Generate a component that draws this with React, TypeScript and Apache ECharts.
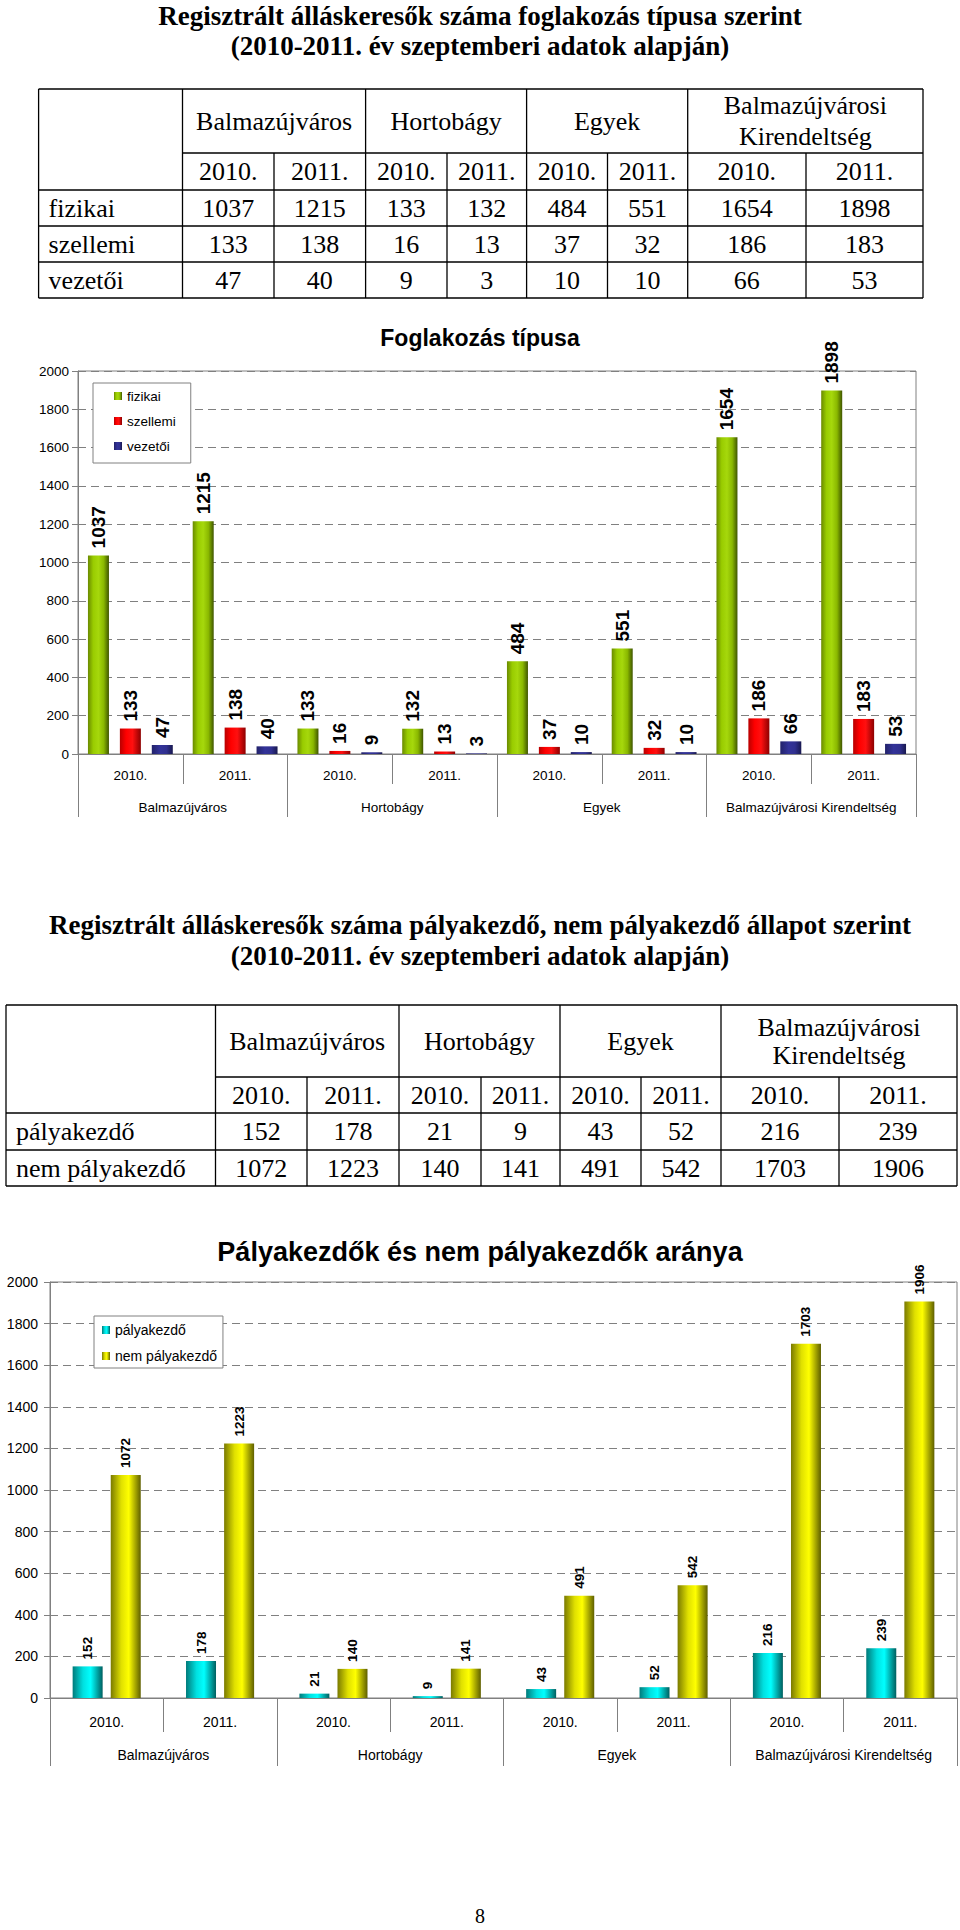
import React, { useEffect, useRef } from 'react';
import * as echarts from 'echarts';

// ---------- data ----------
const yearLabels = ['2010.', '2011.', '2010.', '2011.', '2010.', '2011.', '2010.', '2011.'];
const places = ['Balmazújváros', 'Hortobágy', 'Egyek', 'Balmazújvárosi Kirendeltség'];
const placesTable = [['Balmazújváros'], ['Hortobágy'], ['Egyek'], ['Balmazújvárosi', 'Kirendeltség']];

const title1 = ['Regisztrált álláskeresők száma foglakozás típusa szerint', '(2010-2011. év szeptemberi adatok alapján)'];
const title2 = ['Regisztrált álláskeresők száma pályakezdő, nem pályakezdő állapot szerint', '(2010-2011. év szeptemberi adatok alapján)'];
const chart1Title = 'Foglakozás típusa';
const chart2Title = 'Pályakezdők és nem pályakezdők aránya';
const pageNumber = '8';

const seriesNames1 = ['fizikai', 'szellemi', 'vezetői'];
const fizikai = [1037, 1215, 133, 132, 484, 551, 1654, 1898];
const szellemi = [133, 138, 16, 13, 37, 32, 186, 183];
const vezetoi = [47, 40, 9, 3, 10, 10, 66, 53];

const seriesNames2 = ['pályakezdő', 'nem pályakezdő'];
const palyakezdo = [152, 178, 21, 9, 43, 52, 216, 239];
const nemPalyakezdo = [1072, 1223, 140, 141, 491, 542, 1703, 1906];

const yMin = 0;
const yMax = 2000;
const yInterval = 200;

// ---------- styles ----------
const sans = '"Liberation Sans", Arial, sans-serif';
const serif = '"Liberation Serif", "Times New Roman", serif';
const axisGray = '#808080';

function hGrad(stops: [number, string][]) {
  return new echarts.graphic.LinearGradient(0, 0, 1, 0, stops.map(([offset, color]) => ({ offset, color })));
}

const green = hGrad([[0, '#6a8a00'], [0.25, '#99cc00'], [0.5, '#a6d80c'], [0.75, '#8ab800'], [1, '#3f5500']]);
const red = hGrad([[0, '#b80000'], [0.3, '#ff0000'], [0.6, '#ff1010'], [1, '#8c0000']]);
const blue = hGrad([[0, '#22226a'], [0.4, '#333399'], [0.7, '#30308f'], [1, '#18184f']]);
const cyan = hGrad([[0, '#007a7a'], [0.35, '#00e0e0'], [0.6, '#00ffff'], [1, '#005f5f']]);
const yellow = hGrad([[0, '#7a7a00'], [0.35, '#e0e000'], [0.6, '#ffff00'], [1, '#5f5f00']]);

function txt(text: string, x: number, y: number, size: number, family: string, weight: string, align = 'center') {
  return {
    type: 'text',
    silent: true,
    x,
    y,
    style: {
      text,
      fontSize: size,
      fontFamily: family,
      fontWeight: weight,
      fill: '#000',
      align,
      verticalAlign: 'middle',
      textAlign: align,
      textVerticalAlign: 'middle',
    },
  };
}

function ln(x1: number, y1: number, x2: number, y2: number) {
  return {
    type: 'line',
    silent: true,
    shape: { x1, y1, x2, y2 },
    style: { stroke: '#000', lineWidth: 1.3 },
  };
}

function tableGraphics(xs: number[], ys: number[], rowLabels: string[], rowValues: number[][], dblOffset: number) {
  const els: any[] = [];
  const last = xs.length - 1;
  const bottom = ys[ys.length - 1];
  els.push(ln(xs[0], ys[0], xs[last], ys[0]));
  els.push(ln(xs[1], ys[1], xs[last], ys[1]));
  for (let i = 2; i < ys.length; i++) els.push(ln(xs[0], ys[i], xs[last], ys[i]));
  xs.forEach((x, i) => {
    const full = i === 0 || i === 1 || (i - 1) % 2 === 0;
    els.push(ln(x, full ? ys[0] : ys[1], x, bottom));
  });
  const fs = 26;
  placesTable.forEach((lines, p) => {
    const cx = (xs[1 + 2 * p] + xs[3 + 2 * p]) / 2;
    const cy = (ys[0] + ys[1]) / 2;
    if (lines.length === 1) els.push(txt(lines[0], cx, cy, fs, serif, 'normal'));
    else {
      els.push(txt(lines[0], cx, cy - dblOffset, fs, serif, 'normal'));
      els.push(txt(lines[1], cx, cy + dblOffset, fs, serif, 'normal'));
    }
  });
  yearLabels.forEach((y, c) => {
    els.push(txt(y, (xs[1 + c] + xs[2 + c]) / 2, (ys[1] + ys[2]) / 2, fs, serif, 'normal'));
  });
  rowLabels.forEach((label, r) => {
    const cy = (ys[2 + r] + ys[3 + r]) / 2;
    els.push(txt(label, xs[0] + 10, cy, fs, serif, 'normal', 'left'));
    rowValues[r].forEach((v, c) => {
      els.push(txt(String(v), (xs[1 + c] + xs[2 + c]) / 2, cy, fs, serif, 'normal'));
    });
  });
  return els;
}

function labelCfg(fs: number, dist: number) {
  return {
    show: true,
    position: 'top',
    rotate: 90,
    align: 'left',
    verticalAlign: 'middle',
    distance: dist,
    fontFamily: sans,
    fontWeight: 'bold',
    fontSize: fs,
    color: '#000',
  };
}

function yAxisCfg(gridIndex: number, fs: number, margin: number) {
  return {
    type: 'value',
    gridIndex,
    min: yMin,
    max: yMax,
    interval: yInterval,
    axisLine: { show: true, lineStyle: { color: axisGray, width: 1 } },
    axisTick: { show: true, length: 6, lineStyle: { color: axisGray } },
    splitLine: { show: true, lineStyle: { color: axisGray, type: [8, 5], width: 1 } },
    axisLabel: { margin, fontSize: fs, fontFamily: sans, color: '#000', formatter: (v: number) => String(v) },
  };
}

function xAxesCfg(gridIndex: number, fs: number, yearTick: number, yearMargin: number, groupTick: number, groupMargin: number) {
  return [
    {
      type: 'category',
      gridIndex,
      data: yearLabels,
      position: 'bottom',
      axisLine: { show: true, lineStyle: { color: axisGray, width: 1 } },
      axisTick: { show: true, length: yearTick, interval: 0, lineStyle: { color: axisGray } },
      axisLabel: { interval: 0, margin: yearMargin, fontSize: fs, fontFamily: sans, color: '#000' },
      splitLine: { show: false },
    },
    {
      type: 'category',
      gridIndex,
      data: places,
      position: 'bottom',
      axisLine: { show: false },
      axisTick: { show: true, length: groupTick, interval: 0, lineStyle: { color: axisGray } },
      axisLabel: { interval: 0, margin: groupMargin, fontSize: fs, fontFamily: sans, color: '#000' },
      splitLine: { show: false },
    },
  ];
}

export default function App() {
  const ref = useRef<HTMLDivElement>(null);
  useEffect(() => {
    document.body.style.margin = '0';
    const chart = echarts.init(ref.current!, null, { renderer: 'svg' });

    const table1 = tableGraphics(
      [38.6, 182.5, 274, 365.6, 447, 526.6, 607.5, 687.7, 806, 923],
      [89, 153, 190, 226, 262, 298],
      ['fizikai', 'szellemi', 'vezetői'],
      [fizikai, szellemi, vezetoi],
      15.5
    );
    const table2 = tableGraphics(
      [6, 215.5, 307, 399, 481, 560, 641, 721, 839, 957],
      [1005, 1077, 1113, 1150, 1186],
      ['pályakezdő', 'nem pályakezdő'],
      [palyakezdo, nemPalyakezdo],
      14
    );

    const graphics: any[] = [
      txt(title1[0], 480, 16, 27, serif, 'bold'),
      txt(title1[1], 480, 46, 27, serif, 'bold'),
      ...table1,
      txt(chart1Title, 480, 338, 23, sans, 'bold'),
      txt(title2[0], 480, 925, 27, serif, 'bold'),
      txt(title2[1], 480, 956, 27, serif, 'bold'),
      ...table2,
      txt(chart2Title, 480, 1252, 27, sans, 'bold'),
      txt(pageNumber, 480, 1916, 20, serif, 'normal'),
    ];

    const option: any = {
      animation: false,
      backgroundColor: '#fff',
      textStyle: { fontFamily: sans },
      grid: [
        { left: 78, top: 371, width: 838, height: 383, show: true, borderColor: axisGray, borderWidth: 1, containLabel: false },
        { left: 50, top: 1282, width: 907, height: 416, show: true, borderColor: axisGray, borderWidth: 1, containLabel: false },
      ],
      xAxis: [
        ...xAxesCfg(0, 13.5, 30, 14, 63, 46),
        ...xAxesCfg(1, 14, 34, 17, 68, 50),
      ],
      yAxis: [yAxisCfg(0, 13.5, 9), yAxisCfg(1, 14, 12)],
      legend: [
        {
          data: seriesNames1,
          orient: 'vertical',
          left: 93,
          top: 383,
          padding: [5, 15, 9, 21],
          itemWidth: 8,
          itemHeight: 8,
          itemGap: 9,
          icon: 'rect',
          selectedMode: false,
          borderColor: axisGray,
          borderWidth: 1,
          backgroundColor: '#fff',
          textStyle: { fontSize: 13.5, fontFamily: sans, color: '#000', lineHeight: 16 },
        },
        {
          data: seriesNames2,
          orient: 'vertical',
          left: 94,
          top: 1316,
          padding: [6, 6, 4, 8],
          itemWidth: 8,
          itemHeight: 8,
          itemGap: 10,
          icon: 'rect',
          selectedMode: false,
          borderColor: axisGray,
          borderWidth: 1,
          backgroundColor: '#fff',
          textStyle: { fontSize: 14, fontFamily: sans, color: '#000', lineHeight: 16 },
        },
      ],
      series: [
        { name: seriesNames1[0], type: 'bar', xAxisIndex: 0, yAxisIndex: 0, data: fizikai, barWidth: 21, barGap: '52%', itemStyle: { color: green }, label: labelCfg(19, 7) },
        { name: seriesNames1[1], type: 'bar', xAxisIndex: 0, yAxisIndex: 0, data: szellemi, barWidth: 21, barGap: '52%', itemStyle: { color: red }, label: labelCfg(19, 7) },
        { name: seriesNames1[2], type: 'bar', xAxisIndex: 0, yAxisIndex: 0, data: vezetoi, barWidth: 21, barGap: '52%', itemStyle: { color: blue }, label: labelCfg(19, 7) },
        { name: seriesNames2[0], type: 'bar', xAxisIndex: 2, yAxisIndex: 1, data: palyakezdo, barWidth: 30, barGap: '27%', itemStyle: { color: cyan }, label: labelCfg(13.5, 7) },
        { name: seriesNames2[1], type: 'bar', xAxisIndex: 2, yAxisIndex: 1, data: nemPalyakezdo, barWidth: 30, barGap: '27%', itemStyle: { color: yellow }, label: labelCfg(13.5, 7) },
      ],
      graphic: { elements: graphics },
    };

    chart.setOption(option);
    return () => chart.dispose();
  }, []);

  return (
    <div
      ref={ref}
      style={{ position: 'absolute', left: 0, top: 0, width: 960, height: 1930, background: '#fff' }}
    />
  );
}
